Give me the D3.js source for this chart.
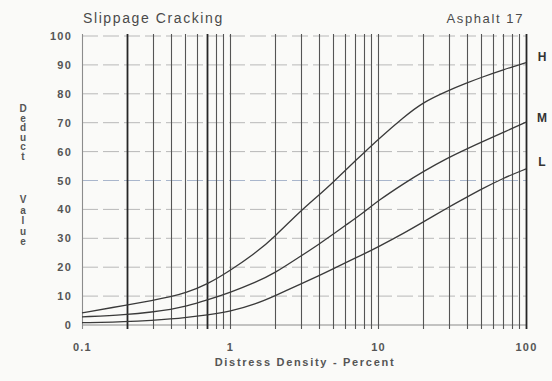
<!DOCTYPE html>
<html>
<head>
<meta charset="utf-8">
<script src="https://cdn.jsdelivr.net/npm/d3@7"></script>
<style>
  html, body { margin: 0; padding: 0; background: #fafaf8; }
  svg { display: block; font-family: "Liberation Sans", Arial, sans-serif; }
</style>
</head>
<body>
<figure id="chart" style="margin:0"></figure>
<script>
// distress density (percent) where the curves were read
const density = [0.1, 0.2, 0.3, 0.4, 0.5, 0.7, 1, 1.5, 2, 3, 4, 5, 6, 8, 10, 15, 20, 30, 40, 50, 70, 100];
// deduct values per severity level
const high   = [4.2, 6.9, 8.5, 9.8, 11.1, 14, 18.8, 25, 30.5, 39.5, 45, 49.5, 53.5, 59.5, 64.2, 72, 77, 81.2, 83.8, 85.7, 88.3, 90.8];
const medium = [2.8, 3.6, 4.5, 5.4, 6.4, 8.6, 11.2, 14.8, 17.9, 23.8, 28, 31.5, 34.4, 38.9, 43, 49, 53, 58, 61, 63.3, 66.6, 70.2];
const low    = [0.8, 1.1, 1.6, 2.1, 2.6, 3.5, 4.6, 7.3, 10, 14.2, 17.1, 19.5, 21.5, 24.5, 27, 31.8, 35.5, 40.8, 44.3, 47, 50.8, 54];
const severityNames = ["H", "M", "L"];
const xTickLabels = [0.1, 1, 10, 100];
const yTickLabels = [0, 10, 20, 30, 40, 50, 60, 70, 80, 90, 100];

const width = 552, height = 381;
const plotLeft = 82, plotRight = 526, plotTop = 36, plotBottom = 325;

const svg = d3.select("#chart").append("svg")
  .attr("width", width)
  .attr("height", height);

const x = d3.scaleLog().domain([0.1, 100]).range([plotLeft, plotRight]);
const y = d3.scaleLinear().domain([0, 100]).range([plotBottom, plotTop]);

// horizontal grid (faint, broken like the scan)
svg.append("g")
  .selectAll("line")
  .data(yTickLabels)
  .enter().append("line")
  .attr("x1", plotLeft).attr("x2", plotRight)
  .attr("y1", d => y(d)).attr("y2", d => y(d))
  .attr("stroke", d => d === 0 ? "#8a8a8a" : (d === 50 ? "#a9b6cc" : "#b8b8b8"))
  .attr("stroke-width", 1)
  .attr("stroke-dasharray", d => d === 0 ? null : "16,5");

// vertical log grid
const heavy = new Set([0.2, 0.7, 100]);
svg.append("g")
  .selectAll("line")
  .data(x.ticks())
  .enter().append("line")
  .attr("x1", d => Math.round(x(d)) + 0.5).attr("x2", d => Math.round(x(d)) + 0.5)
  .attr("y1", plotTop - 2).attr("y2", plotBottom + 4)
  .attr("stroke", d => heavy.has(+d.toPrecision(3)) ? "#262626" : (d === 0.1 ? "#8c8c8c" : "#555"))
  .attr("stroke-width", d => heavy.has(+d.toPrecision(3)) ? 1.8 : 1.1);

// axes
const yAxis = svg.append("g")
  .attr("transform", `translate(${plotLeft},0)`)
  .call(d3.axisLeft(y).tickValues(yTickLabels).tickSize(0).tickPadding(10));
yAxis.select(".domain").remove();

const xAxis = svg.append("g")
  .attr("transform", `translate(0,${plotBottom})`)
  .call(d3.axisBottom(x).tickValues(xTickLabels).tickFormat(d3.format("")).tickSize(0).tickPadding(18));
xAxis.select(".domain").remove();

svg.selectAll(".tick text")
  .attr("font-family", "Liberation Sans, Arial, sans-serif")
  .attr("font-size", 11)
  .attr("font-weight", "bold")
  .attr("letter-spacing", "1.2px")
  .attr("fill", "#555");

// curves
const line = d3.line()
  .x(d => x(d[0]))
  .y(d => y(d[1]))
  .curve(d3.curveBasis);

const series = [high, medium, low];
svg.append("g")
  .selectAll("path")
  .data(series)
  .enter().append("path")
  .attr("d", s => line(density.map((d, i) => [d, s[i]])))
  .attr("fill", "none")
  .attr("stroke", "#3a3a3a")
  .attr("stroke-width", 1.3);

// H / M / L labels at the end of each curve
svg.append("g")
  .selectAll("text")
  .data(series)
  .enter().append("text")
  .attr("x", plotRight + 16)
  .attr("y", (s, i) => y(s[s.length - 1]) - [4.5, 3, 6][i])
  .attr("text-anchor", "middle")
  .attr("dominant-baseline", "middle")
  .attr("font-size", 12)
  .attr("font-weight", "bold")
  .attr("fill", "#333")
  .text((s, i) => severityNames[i]);

// titles
svg.append("text")
  .attr("x", 83).attr("y", 23)
  .attr("font-size", 14)
  .attr("letter-spacing", "1.6px")
  .attr("fill", "#4a4a4a")
  .text("Slippage Cracking");

svg.append("text")
  .attr("x", 524).attr("y", 23)
  .attr("text-anchor", "end")
  .attr("font-size", 13)
  .attr("letter-spacing", "1.6px")
  .attr("fill", "#4a4a4a")
  .text("Asphalt 17");

svg.append("text")
  .attr("x", 305).attr("y", 366)
  .attr("text-anchor", "middle")
  .attr("font-size", 11)
  .attr("font-weight", "bold")
  .attr("letter-spacing", "1.7px")
  .attr("fill", "#555")
  .text("Distress Density - Percent");

// stacked vertical y title
const yTitle = svg.append("text")
  .attr("text-anchor", "middle")
  .attr("font-size", 10)
  .attr("font-weight", "bold")
  .attr("fill", "#555");
"Deduct".split("").forEach((c, i) => {
  yTitle.append("tspan").attr("x", 23).attr("y", 112 + i * 9.6).text(c);
});
"Value".split("").forEach((c, i) => {
  yTitle.append("tspan").attr("x", 23).attr("y", 203 + i * 10.5).text(c);
});
</script>
</body>
</html>
